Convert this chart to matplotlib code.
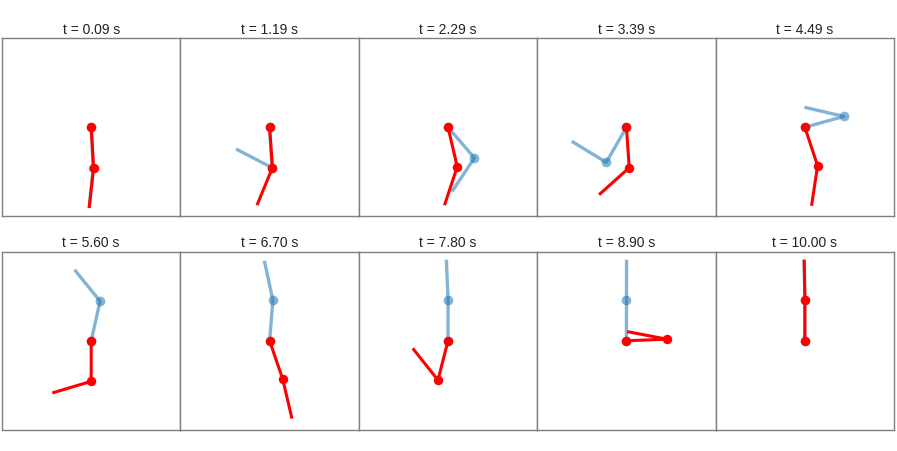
import numpy as np
import matplotlib
matplotlib.use('Agg')
import matplotlib.pyplot as plt

plt.rcParams['font.family'] = ['Liberation Sans', 'DejaVu Sans']

# snapshot times and link angles (rad, measured from hanging-down vertical)
times = [0.09, 1.19, 2.29, 3.39, 4.49, 5.60, 6.70, 7.80, 8.90, 10.00]
red_th1 = [0.06, 0.07, 0.23, 0.07, 0.32, 0.00, 0.33, -0.25, 1.61, 3.14]
red_th2 = [-0.11, -0.39, -0.32, -0.84, -0.15, -1.28, 0.23, -2.47, -1.76, 3.16]
blue_th1 = [0.05, 0.06, 0.71, -0.52, 1.84, 2.92, 3.06, 3.14, 3.14, 3.14]
blue_th2 = [-0.10, -2.05, -0.59, -2.12, -1.80, -2.46, -2.93, -3.10, 3.14, 3.16]
L1 = 1.0
L2 = 1.0
lim = 2.2


def links(th1, th2):
    x1 = L1 * np.sin(th1)
    y1 = -L1 * np.cos(th1)
    x2 = x1 + L2 * np.sin(th2)
    y2 = y1 - L2 * np.cos(th2)
    return [0, x1, x2], [0, y1, y2]


fig, axes = plt.subplots(2, 5, figsize=(8.97, 4.51), dpi=100,
                         gridspec_kw=dict(left=0.0022, right=0.9967, top=0.9157,
                                          bottom=0.0466, wspace=0, hspace=0.197))

for i, ax in enumerate(axes.flat):
    bx, by = links(blue_th1[i], blue_th2[i])
    rx, ry = links(red_th1[i], red_th2[i])
    # reference pose (faded blue)
    ax.plot(bx, by, color='#1f77b4', alpha=0.55, lw=2.4, solid_capstyle='butt', zorder=1)
    ax.plot(bx[:2], by[:2], 'o', color='#1f77b4', alpha=0.55, ms=7, mew=0, zorder=1)
    # actual pose (red)
    ax.plot(rx, ry, color='red', lw=2.2, solid_capstyle='butt', zorder=2)
    ax.plot(rx[:2], ry[:2], 'o', color='red', ms=6.8, mew=0, zorder=3)
    ax.set_xlim(-lim, lim)
    ax.set_ylim(-lim, lim)
    ax.set_xticks([])
    ax.set_yticks([])
    for s in ax.spines.values():
        s.set_color('#808080')
        s.set_linewidth(1.0)
    ax.set_title('t = %.2f s' % times[i], fontsize=10, pad=3, color='#222222')

plt.savefig('out.png', dpi=100)
